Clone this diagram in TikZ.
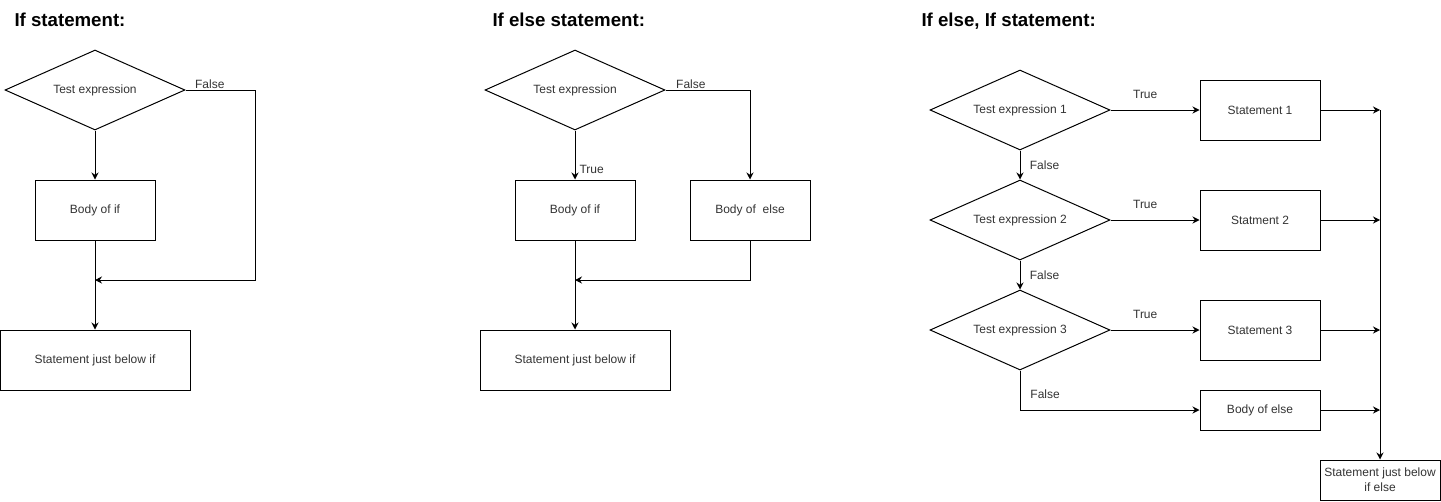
\documentclass[tikz,border=0pt]{standalone}
\usepackage{fontspec}
\setmainfont{Liberation Sans}
\usetikzlibrary{shapes.geometric,arrows.meta,positioning}

\begin{document}
\begin{tikzpicture}[x=0.75pt,y=-0.75pt,line width=0.75pt,
    every node/.style={font=\fontsize{9}{11}\selectfont, text=black!80},
    heading/.style={font=\fontsize{14}{16}\selectfont\bfseries, text=black,
        anchor=base west, inner sep=0pt},
    test/.style={draw, shape=diamond, aspect=2.25, minimum width=135pt,
        minimum height=60pt, inner sep=0pt},
    stmt/.style={draw, minimum width=90pt, minimum height=45pt, inner sep=1pt},
    wide/.style={stmt, minimum width=142.5pt},
    twoline/.style={stmt, minimum height=30pt, align=center},
    lbl/.style={inner sep=1pt},
    flow/.style={-{Stealth[length=5.25pt,width=5.25pt]}}]
    \useasboundingbox (0,0) rectangle (1441,501);

    % If statement
    \node[heading] (h1) at (14,26) {If statement:};
    \node[test] (d1) at (95,90) {Test expression};
    \node[stmt] (b1) at (95,210) {Body of if};
    \node[wide] (s1) at (95,360) {Statement just below if};
    \coordinate (r1) at (255,90);
    \coordinate (m1) at (95,280);

    \draw[flow] (d1) -- (b1);
    \draw[flow] (b1) -- (s1);
    \draw[flow] (d1.east) -- node[lbl, above, pos=0.35] {False} (r1) |- (m1);

    % If else statement
    \node[heading] (h2) at (492,26) {If else statement:};
    \node[test] (d2) at (575,90) {Test expression};
    \node[stmt] (b2) at (575,210) {Body of if};
    \node[stmt] (e2) at (750,210) {Body of\ \ else};
    \node[wide] (s2) at (575,360) {Statement just below if};
    \coordinate (m2) at (575,280);

    \draw[flow] (d2) -- node[lbl, right=2pt, pos=0.8] {True} (b2);
    \draw[flow] (d2.east) -| node[lbl, above, pos=0.15] {False} (e2);
    \draw[flow] (b2) -- (s2);
    \draw[flow] (e2) |- (m2);

    % If else, If statement
    \node[heading] (h3) at (921,26) {If else, If statement:};
    \node[test] (q1) at (1020,110) {Test expression 1};
    \node[test] (q2) at (1020,220) {Test expression 2};
    \node[test] (q3) at (1020,330) {Test expression 3};
    \node[stmt] (a1) at (1260,110) {Statement 1};
    \node[stmt] (a2) at (1260,220) {Statment 2};
    \node[stmt] (a3) at (1260,330) {Statement 3};
    \node[twoline] (e3) at (1260,410) {Body of else};
    \node[twoline] (f3) at (1380,480) {Statement just below\\if else};
    \coordinate (j1) at (1380,110);
    \coordinate (j2) at (1380,220);
    \coordinate (j3) at (1380,330);
    \coordinate (j4) at (1380,410);

    \draw[flow] (q1) -- node[lbl, above=7pt, pos=0.39] {True} (a1);
    \draw[flow] (q2) -- node[lbl, above=7pt, pos=0.39] {True} (a2);
    \draw[flow] (q3) -- node[lbl, above=7pt, pos=0.39] {True} (a3);
    \draw[flow] (q1) -- node[lbl, right=6pt] {False} (q2);
    \draw[flow] (q2) -- node[lbl, right=6pt] {False} (q3);
    \draw[flow] (q3) |- node[lbl, above=7pt, pos=0.57] {False} (e3);
    \draw[flow] (a1) -- (j1);
    \draw[flow] (a2) -- (j2);
    \draw[flow] (a3) -- (j3);
    \draw[flow] (e3) -- (j4);
    \draw[flow] (j1) -- (f3);

\end{tikzpicture}
\end{document}
